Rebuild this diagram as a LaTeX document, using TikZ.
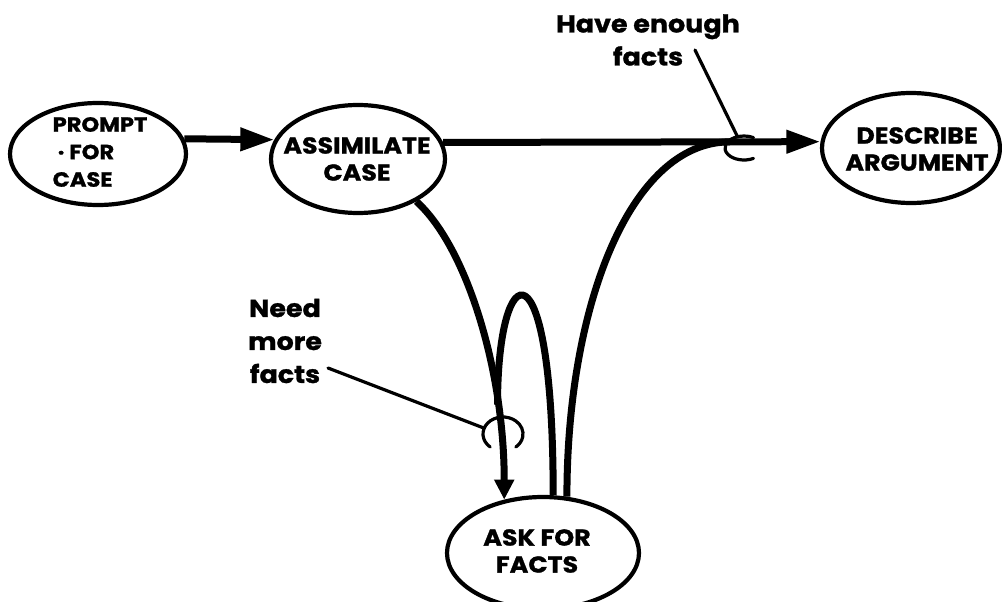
\documentclass[tikz,border=0pt]{standalone}
\usepackage{fontspec}
\setmainfont{Poppins}[BoldFeatures={FakeBold=1.2, FakeStretch=1.1}]
\usetikzlibrary{shapes.geometric,arrows.meta,calc}

\begin{document}
\begin{tikzpicture}[x=1pt,y=-1pt,
  state/.style={draw, ellipse, line width=4.2pt, inner sep=0pt},
  statetext/.style={inner sep=0pt, align=center, font=\bfseries\fontsize{23}{27}\selectfont},
  note/.style={inner sep=0pt, align=center, font=\bfseries\fontsize{24.5}{33}\selectfont},
  flow/.style={line width=7pt},
  bigtip/.style={-{Triangle[length=34pt,width=22pt]}},
  smalltip/.style={-{Triangle[length=20pt,width=19pt]}},
  pointer/.style={line width=3.2pt, line cap=round}]

\fill[white] (0,0) rectangle (1002,602);
\useasboundingbox (0,0) rectangle (1002,602);

% states
\node[state, minimum width=176pt, minimum height=102pt] (prompt)   at (98,154)  {};
\node[state, minimum width=174pt, minimum height=108pt] (assim)    at (358,159) {};
\node[state, minimum width=178pt, minimum height=110pt] (describe) at (911,148) {};
\node[state, minimum width=192pt, minimum height=112pt] (ask)      at (543,553) {};

\node[statetext, align=left, font=\bfseries\fontsize{20.5}{27.5}\selectfont] (prompttxt) at (100,152)
      {PROMPT\\\hspace*{5pt}·\hspace{5pt}FOR\\CASE};
\node[statetext] (assimtxt)    at (357,159) {ASSIMILATE\\CASE};
\node[statetext] (describetxt) at (917,149) {DESCRIBE\\ARGUMENT};
\node[statetext] (asktxt)      at (537,551) {ASK FOR\\FACTS};

% transitions
\draw[flow, bigtip] (prompt.10) -- (assim.167);
\draw[flow, bigtip] (assim.11) -- coordinate[pos=0.76] (join) (describe.176);
\draw[flow, smalltip] (assim.-36) .. controls +(50,45) and +(0,-130) ..
      coordinate[pos=0.75] (merge) (ask.126);
\draw[flow] (ask.80) .. controls +(0,-260) and +(0,-150) .. (merge);
\draw[flow] (ask.67) .. controls +(0,-190) and +(-100,0) .. (join);

% condition labels
\node[note] (enough) at (648,40) {Have enough\\facts};
\node[note] (more)   at (285,341) {Need\\more\\facts};

\coordinate (enoughhinge) at (744,148);
\coordinate (moreh)       at (503,434);
\coordinate (enoughtail)  at (695,50);
\coordinate (moretail)    at (328,368);
\coordinate (enoughtip)   at ($(enoughhinge)+(250:19 and 12)$);
\coordinate (moretip)     at ($(moreh)+(200:20 and 17)$);

\draw[pointer] ($(enoughhinge)+(60:19 and 12)$) arc[start angle=60, end angle=300, x radius=19, y radius=12];
\draw[pointer] ($(moreh)+(130:20 and 17)$) arc[start angle=130, end angle=410, x radius=20, y radius=17];
\draw[pointer] (enoughtail) -- (enoughtip);
\draw[pointer] (moretail) -- (moretip);
\end{tikzpicture}
\end{document}
